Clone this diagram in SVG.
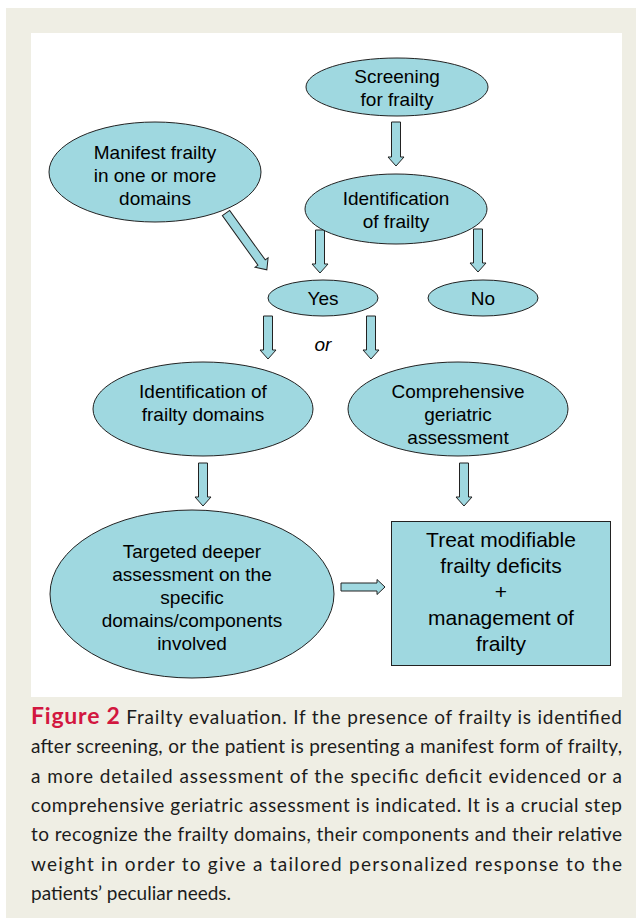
<svg xmlns="http://www.w3.org/2000/svg" width="641" height="924" viewBox="0 0 641 924">
<style>
.node{fill:#9fd8e0;stroke:#222;stroke-width:1}
.arr{fill:#9fd8e0;stroke:#222;stroke-width:1;stroke-linejoin:miter}
.t{font-family:"Liberation Sans",Arial,sans-serif;font-size:19px;fill:#000;text-anchor:middle}
.tb{font-family:"Liberation Sans",Arial,sans-serif;font-size:21px;fill:#000;text-anchor:middle}
.cap{font-family:Lato,"Open Sans",sans-serif;font-size:19px;fill:#1c1c1c}
.fig{font-weight:bold;fill:#d2173f}
</style>
<defs>
<path id="a43" d="M-4.5,0 H4.5 V34 H8 L0,43 L-8,34 H-4.5 Z"/>
</defs>
<rect x="0" y="0" width="641" height="924" fill="#fff"/>
<rect x="6" y="8" width="630" height="910" fill="#efeee4"/>
<rect x="31" y="33" width="591" height="664" fill="#fff"/>

<g id="connectors">
<path class="arr" d="M391.5,122 H400.5 V157 H404 L396,166 L388,157 H391.5 Z"/>
<use href="#a43" class="arr" transform="translate(320,230)"/>
<use href="#a43" class="arr" transform="translate(478,229)"/>
<use href="#a43" class="arr" transform="translate(268,316)"/>
<use href="#a43" class="arr" transform="translate(371,316)"/>
<use href="#a43" class="arr" transform="translate(203,463)"/>
<use href="#a43" class="arr" transform="translate(464,463)"/>
<path class="arr" transform="translate(226,213) rotate(-35.7)" d="M-4.5,0 H4.5 V61 H8 L0,70 L-8,61 H-4.5 Z"/>
<path class="arr" transform="translate(341,587) rotate(-90)" d="M-4,0 H4 V36 H7.5 L0,44 L-7.5,36 H-4 Z"/>
<text class="t" x="323" y="351" style="font-style:italic">or</text>
</g>

<g id="screening">
<ellipse class="node" cx="397" cy="87" rx="91" ry="29"/>
<text class="t" x="397" y="83">Screening</text>
<text class="t" x="397" y="106">for frailty</text>
</g>
<g id="manifest">
<ellipse class="node" cx="155" cy="172" rx="106" ry="50"/>
<text class="t" x="155" y="159">Manifest frailty</text>
<text class="t" x="155" y="182">in one or more</text>
<text class="t" x="155" y="205">domains</text>
</g>
<g id="identification">
<ellipse class="node" cx="396" cy="209" rx="91" ry="35"/>
<text class="t" x="396" y="205">Identification</text>
<text class="t" x="396" y="228">of frailty</text>
</g>
<g id="yes">
<ellipse class="node" cx="323" cy="298" rx="55" ry="18"/>
<text class="t" x="323" y="305">Yes</text>
</g>
<g id="no">
<ellipse class="node" cx="483" cy="298" rx="55" ry="18"/>
<text class="t" x="483" y="305">No</text>
</g>
<g id="domains">
<ellipse class="node" cx="203" cy="409" rx="110" ry="47"/>
<text class="t" x="203" y="398">Identification of</text>
<text class="t" x="203" y="421">frailty domains</text>
</g>
<g id="cga">
<ellipse class="node" cx="458" cy="409" rx="110" ry="47"/>
<text class="t" x="458" y="398">Comprehensive</text>
<text class="t" x="458" y="421">geriatric</text>
<text class="t" x="458" y="444">assessment</text>
</g>
<g id="targeted">
<ellipse class="node" cx="192" cy="594" rx="142" ry="84"/>
<text class="t" x="192" y="558">Targeted deeper</text>
<text class="t" x="192" y="581">assessment on the</text>
<text class="t" x="192" y="604">specific</text>
<text class="t" x="192" y="627">domains/components</text>
<text class="t" x="192" y="650">involved</text>
</g>
<g id="treat">
<rect class="node" x="391.5" y="521.5" width="219" height="144"/>
<text class="tb" x="501" y="547">Treat modifiable</text>
<text class="tb" x="501" y="573">frailty deficits</text>
<text class="tb" x="501" y="599">+</text>
<text class="tb" x="501" y="625">management of</text>
<text class="tb" x="501" y="651">frailty</text>
</g>

<g id="caption" class="cap">
<text x="31" y="724" textLength="591" lengthAdjust="spacing"><tspan class="fig" font-size="23">Figure 2</tspan> Frailty evaluation. If the presence of frailty is identified</text>
<text x="31" y="753" textLength="591" lengthAdjust="spacing">after screening, or the patient is presenting a manifest form of frailty,</text>
<text x="31" y="782.5" textLength="591" lengthAdjust="spacing">a more detailed assessment of the specific deficit evidenced or a</text>
<text x="31" y="812" textLength="591" lengthAdjust="spacing">comprehensive geriatric assessment is indicated. It is a crucial step</text>
<text x="31" y="841" textLength="591" lengthAdjust="spacing">to recognize the frailty domains, their components and their relative</text>
<text x="31" y="870.5" textLength="591" lengthAdjust="spacing">weight in order to give a tailored personalized response to the</text>
<text x="31" y="900">patients’ peculiar needs.</text>
</g>
</svg>
